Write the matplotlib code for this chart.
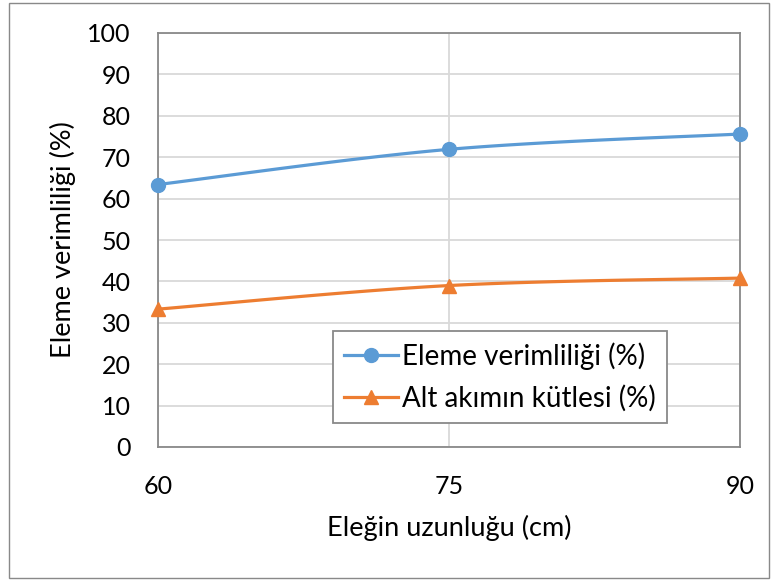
import numpy as np
import matplotlib
matplotlib.use("Agg")
import matplotlib.pyplot as plt
from matplotlib.patches import Rectangle
from matplotlib.lines import Line2D

# Sieve length categories and measured series
lengths = ["60", "75", "90"]
efficiency = [63.4, 71.9, 75.6]      # Eleme verimliliği (%)
underflow_mass = [33.3, 39.0, 40.8]  # Alt akımın kütlesi (%)
y_ticks = [0, 10, 20, 30, 40, 50, 60, 70, 80, 90, 100]

plt.rcParams["font.family"] = ["Lato", "DejaVu Sans"]

BLUE = "#5B9BD5"
ORANGE = "#ED7D31"
GRID = "#D9D9D9"
AXIS = "#898989"
FS = 18
FS_LABEL = 19.5
FS_LEGEND = 20


def smooth(xs, ys, n=40):
    """Catmull-Rom spline through the points (Excel-like smoothed line)."""
    xs = np.asarray(xs, float)
    ys = np.asarray(ys, float)
    px = np.concatenate([[xs[0]], xs, [xs[-1]]])
    py = np.concatenate([[ys[0]], ys, [ys[-1]]])
    out_x, out_y = [], []
    for i in range(1, len(px) - 2):
        p0, p1, p2, p3 = (np.array([px[j], py[j]]) for j in (i - 1, i, i + 1, i + 2))
        c1 = p1 + (p2 - p0) / 6.0
        c2 = p2 - (p3 - p1) / 6.0
        t = np.linspace(0, 1, n)[:, None]
        b = ((1 - t) ** 3) * p1 + 3 * ((1 - t) ** 2) * t * c1 + 3 * (1 - t) * t ** 2 * c2 + t ** 3 * p2
        out_x.extend(b[:, 0])
        out_y.extend(b[:, 1])
    return np.array(out_x), np.array(out_y)


fig = plt.figure(figsize=(7.71, 5.81), dpi=100)
ax = fig.add_axes([158 / 771, 1 - 447 / 581, 582 / 771, 414 / 581])

# Chart-area border
fig.patches.append(Rectangle((9 / 771, 3 / 581), 760 / 771, 575 / 581,
                             transform=fig.transFigure, fill=False,
                             edgecolor=AXIS, linewidth=1.0))

x = np.arange(len(lengths))

for vals, color, marker, ms in [(efficiency, BLUE, "o", 10),
                                (underflow_mass, ORANGE, "^", 10.5)]:
    sx, sy = smooth(x, vals)
    ax.plot(sx, sy, color=color, lw=2.3, solid_capstyle="round", zorder=3)
    ax.plot(x, vals, linestyle="none", marker=marker, markersize=ms,
            color=color, zorder=4, clip_on=False)

ax.set_xlim(0, len(lengths) - 1)
ax.set_ylim(0, 100)
ax.set_xticks(x)
ax.set_xticklabels(lengths)
ax.set_yticks(y_ticks)

ax.grid(True, color=GRID, linewidth=1.3)
ax.set_axisbelow(True)
for s in ax.spines.values():
    s.set_color(AXIS)
    s.set_linewidth(1.3)

ax.tick_params(axis="both", length=0, labelsize=FS, colors="black")
ax.tick_params(axis="x", pad=20)
ax.tick_params(axis="y", pad=19.5)

ax.set_xlabel("Eleğin uzunluğu (cm)", fontsize=FS_LABEL, labelpad=12)
ax.set_ylabel("Eleme verimliliği (%)", fontsize=FS_LABEL, labelpad=8)

handles = [
    Line2D([], [], color=BLUE, lw=2.3, marker="o", markersize=10),
    Line2D([], [], color=ORANGE, lw=2.3, marker="^", markersize=10.5),
]
leg = ax.legend(handles, ["Eleme verimliliği (%)", "Alt akımın kütlesi (%)"],
                loc="upper left", bbox_to_anchor=(0.301, 0.280),
                fontsize=FS_LEGEND, frameon=True, fancybox=False, framealpha=1,
                edgecolor=AXIS, handlelength=1.95, handletextpad=0.12,
                borderpad=0.4, labelspacing=0.55, borderaxespad=0)
leg.get_frame().set_linewidth(1.3)

fig.savefig("out.png", dpi=100)
